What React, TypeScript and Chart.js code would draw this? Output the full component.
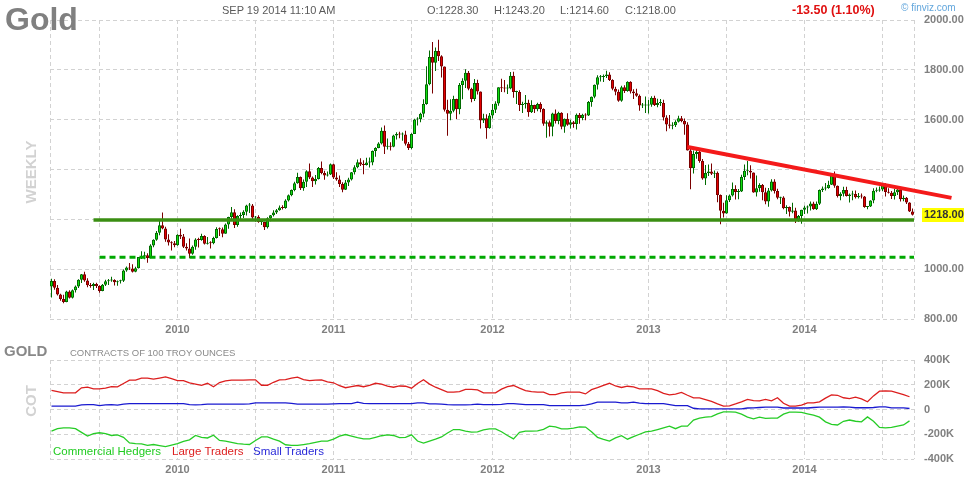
import React, { useEffect, useRef } from 'react';
import Chart from 'chart.js/auto';

// ---------- weekly gold candles (week starts Mon 16 Mar 2009 ... Mon 15 Sep 2014) ----------
const firstOpen = 930;
const closes2009 = [953,925,898,880,868,910,885,915,930,958,980,955,935,932,940,932,912,937,952,955,957,947,952,954,995,1007,1003,990,1004,1049,1052,1056,1045,1095,1118,1146,1176,1163,1119,1107,1104,1096];
const highs2009 = [962,960,936,901,897,913,915,918,934,960,981,990,964,944,945,945,935,940,958,961,970,960,955,958,999,1011,1025,1020,1010,1049,1072,1070,1064,1100,1120,1153,1195,1227,1170,1140,1112,1113];
const lows2009 = [886,917,894,873,863,867,882,882,906,924,944,950,927,925,916,924,905,911,932,936,949,934,933,942,948,990,997,987,988,1003,1041,1040,1026,1044,1088,1114,1136,1160,1110,1095,1075,1088];

const closes2010 = [1138,1131,1090,1083,1062,1090,1119,1117,1133,1102,1106,1104,1125,1161,1160,1142,1179,1209,1228,1177,1213,1217,1230,1256,1256,1207,1210,1189,1189,1168,1204,1216,1227,1236,1247,1245,1276,1297,1318,1345,1370,1325,1351,1393,1368,1353,1362,1406,1386,1376,1380,1421];
const highs2010 = [1140,1162,1141,1104,1123,1095,1124,1126,1142,1136,1129,1112,1130,1168,1167,1167,1183,1210,1249,1240,1216,1227,1236,1259,1266,1262,1213,1216,1200,1190,1208,1217,1236,1241,1256,1257,1281,1300,1320,1351,1387,1372,1360,1397,1424,1372,1378,1410,1432,1395,1392,1424];
const lows2010 = [1094,1121,1085,1075,1045,1058,1078,1087,1114,1099,1099,1083,1100,1123,1133,1128,1142,1162,1197,1165,1170,1196,1205,1215,1225,1195,1190,1186,1177,1157,1163,1192,1211,1221,1234,1239,1242,1272,1293,1313,1343,1318,1315,1330,1362,1330,1340,1360,1381,1359,1372,1378];

const closes2011 = [1368,1360,1342,1319,1348,1360,1389,1409,1429,1420,1418,1428,1428,1474,1486,1504,1556,1491,1493,1491,1536,1542,1540,1540,1503,1486,1542,1601,1602,1624,1663,1742,1852,1828,1876,1855,1813,1640,1624,1636,1683,1642,1739,1756,1788,1724,1683,1747,1713,1597,1606,1566];
const highs2011 = [1423,1389,1376,1349,1358,1367,1390,1417,1440,1445,1437,1447,1448,1476,1489,1509,1569,1577,1524,1509,1539,1550,1552,1548,1556,1510,1545,1604,1610,1628,1682,1814,1878,1912,1890,1921,1859,1813,1680,1682,1696,1684,1747,1766,1802,1795,1728,1763,1760,1713,1624,1622];
const lows2011 = [1362,1355,1330,1309,1318,1334,1356,1380,1405,1414,1381,1416,1408,1417,1451,1485,1500,1462,1480,1476,1489,1520,1525,1515,1496,1478,1481,1542,1577,1590,1610,1660,1738,1705,1795,1835,1769,1633,1535,1598,1630,1603,1622,1682,1727,1718,1670,1675,1701,1565,1587,1523];

const closes2012 = [1617,1640,1665,1730,1726,1725,1725,1776,1711,1711,1659,1662,1668,1630,1659,1642,1663,1643,1584,1590,1572,1625,1595,1628,1572,1604,1580,1590,1583,1620,1607,1620,1617,1671,1692,1740,1770,1771,1775,1781,1759,1724,1712,1676,1730,1715,1752,1713,1706,1696,1657,1657,1657];
const highs2012 = [1627,1663,1674,1730,1764,1759,1741,1791,1792,1716,1718,1672,1699,1680,1678,1660,1668,1670,1646,1597,1597,1628,1641,1632,1630,1605,1626,1600,1595,1625,1627,1624,1626,1675,1693,1741,1778,1779,1781,1796,1790,1762,1732,1721,1736,1738,1754,1754,1722,1724,1701,1667,1693];
const lows2012 = [1564,1605,1627,1656,1711,1710,1703,1722,1688,1663,1635,1627,1645,1612,1627,1627,1634,1630,1576,1527,1532,1533,1585,1582,1562,1547,1576,1565,1568,1561,1584,1598,1598,1615,1652,1686,1721,1753,1751,1767,1755,1718,1698,1672,1672,1707,1712,1705,1683,1692,1636,1647,1627];

const closes2013 = [1660,1688,1659,1667,1667,1609,1581,1576,1578,1592,1606,1595,1581,1476,1405,1462,1470,1434,1364,1386,1392,1383,1387,1298,1234,1223,1277,1296,1322,1310,1312,1370,1395,1395,1388,1308,1325,1338,1309,1272,1316,1352,1314,1287,1288,1244,1250,1230,1235,1198,1213,1238];
const highs2013 = [1679,1694,1696,1684,1683,1680,1618,1619,1590,1598,1616,1615,1605,1590,1489,1476,1488,1475,1442,1418,1420,1424,1396,1392,1300,1267,1297,1300,1348,1337,1322,1379,1420,1434,1417,1388,1376,1345,1342,1327,1326,1361,1361,1323,1291,1293,1257,1252,1267,1246,1217,1238];
const lows2013 = [1625,1652,1655,1650,1655,1597,1554,1565,1562,1571,1589,1590,1539,1476,1321,1384,1443,1427,1359,1338,1374,1378,1366,1269,1180,1207,1222,1270,1292,1280,1281,1310,1358,1377,1364,1307,1292,1311,1277,1261,1251,1312,1304,1281,1262,1240,1221,1211,1224,1185,1190,1182];

const closes2014 = [1247,1252,1264,1240,1263,1318,1324,1326,1339,1379,1335,1294,1303,1318,1294,1300,1302,1289,1294,1292,1250,1252,1276,1315,1316,1320,1337,1310,1307,1294,1309,1320,1281,1287,1268,1231,1218];
const highs2014 = [1255,1256,1272,1271,1272,1320,1332,1346,1355,1385,1392,1336,1309,1331,1331,1304,1315,1316,1306,1304,1294,1254,1277,1325,1328,1332,1346,1345,1325,1314,1322,1322,1324,1296,1290,1269,1243];
const lows2014 = [1221,1223,1235,1238,1237,1258,1310,1316,1323,1338,1327,1288,1277,1292,1292,1268,1277,1284,1284,1284,1246,1240,1250,1265,1309,1311,1314,1292,1304,1282,1280,1298,1272,1273,1262,1229,1215];

const closes = [...closes2009, ...closes2010, ...closes2011, ...closes2012, ...closes2013, ...closes2014];
const highs = [...highs2009, ...highs2010, ...highs2011, ...highs2012, ...highs2013, ...highs2014];
const lows = [...lows2009, ...lows2010, ...lows2011, ...lows2012, ...lows2013, ...lows2014];

// ---------- drawn trend lines ----------
const supportLevel = 1197;
const supportFromWeek = 14;
const lowerSupportLevel = 1048;
const lowerSupportFromWeek = 16;
const resistanceWeeks = [212, 300];
const resistancePrices = [1490, 1286];

// ---------- time axis ----------
const gridWeeks = [16, 42, 68, 94, 120, 147, 173, 199, 225, 251, 277];
const yearLabels: Record<number, string> = { 42: '2010', 94: '2011', 147: '2012', 199: '2013', 251: '2014' };
const xMin = -0.5;
const xMax = 287.5;

// ---------- COT (thousands of contracts, every 2nd week) ----------
const cotLarge = [
  154,145,135,135,135,175,180,167,167,173,
  185,183,210,237,237,253,253,245,254,264,
  250,233,233,215,205,195,212,184,218,232,
  237,237,237,240,240,196,196,220,240,242,
  254,262,242,234,238,240,224,216,192,176,
  185,194,184,195,212,205,188,180,190,188,
  172,210,240,205,180,160,141,141,145,162,
  162,158,135,135,135,165,185,194,172,152,
  144,141,141,121,121,135,141,141,141,126,
  160,176,195,212,190,178,188,182,167,167,
  167,152,130,119,125,138,115,94,94,80,
  65,45,28,30,45,62,81,72,70,82,
  70,95,50,27,27,35,54,54,62,92,
  118,115,95,88,100,85,62,110,148,150,
  148,135,120,103];
const cotSmall = [
  27,27,27,27,27,38,40,40,32,38,
  40,35,44,48,48,48,48,48,48,48,
  48,48,48,40,38,40,44,44,44,44,
  44,44,44,46,54,54,54,54,54,54,
  50,44,44,44,44,44,44,46,48,48,
  48,59,50,48,48,48,48,48,48,48,
  48,54,54,46,46,44,40,38,38,38,
  40,44,40,40,40,42,48,48,44,40,
  40,40,40,32,32,32,32,32,32,36,
  45,59,59,59,59,54,54,59,52,48,
  48,48,48,40,32,32,32,10,5,5,
  5,5,5,5,5,5,12,13,16,19,
  19,19,12,12,12,12,12,16,19,19,
  19,19,21,19,14,14,14,16,21,21,
  13,13,13,8];
const cotCommercial = [
  -175,-155,-148,-148,-155,-185,-215,-195,-188,-195,
  -210,-205,-225,-270,-275,-278,-290,-283,-292,-300,
  -288,-275,-258,-245,-210,-225,-230,-208,-250,-256,
  -265,-275,-280,-283,-250,-221,-221,-240,-256,-285,
  -290,-290,-283,-275,-265,-256,-256,-240,-215,-202,
  -215,-228,-237,-237,-225,-212,-205,-210,-228,-225,
  -205,-255,-272,-255,-240,-222,-190,-162,-162,-175,
  -183,-180,-165,-156,-156,-180,-210,-237,-185,-175,
  -175,-172,-160,-135,-140,-156,-156,-150,-140,-142,
  -180,-225,-242,-255,-230,-212,-240,-220,-200,-180,
  -175,-162,-148,-135,-155,-135,-135,-86,-70,-62,
  -58,-35,-19,-19,-22,-38,-62,-75,-62,-72,
  -70,-70,-38,-22,-22,-24,-35,-45,-62,-100,
  -120,-125,-95,-85,-95,-100,-60,-95,-145,-148,
  -145,-135,-125,-92];
const cotWeeks = cotLarge.map((_, k) => k * 2);

const header = {
  date: 'SEP 19 2014 11:10 AM',
  open: 'O:1228.30',
  high: 'H:1243.20',
  low: 'L:1214.60',
  close: 'C:1218.00',
  change: '-13.50 (1.10%)',
};

const FONT = 'Arial, "Liberation Sans", sans-serif';
const GRID = '#d2d2d2';
const LABEL = '#808080';

function makeXScale() {
  const ticks = [xMin, ...gridWeeks, xMax];
  return {
    type: 'linear',
    min: xMin,
    max: xMax,
    offset: false,
    grid: { color: GRID, drawTicks: false, offset: false, lineWidth: 1 },
    border: { display: false, dash: [4, 3] },
    afterBuildTicks: (s: any) => {
      s.ticks = ticks.map((v) => ({ value: v }));
    },
    afterFit: (s: any) => {
      s.height = 21;
    },
    ticks: {
      autoSkip: false,
      maxRotation: 0,
      minRotation: 0,
      padding: 4,
      color: LABEL,
      font: { family: FONT, size: 11, weight: 'bold' },
      callback: (v: any) => yearLabels[v as number] ?? '',
    },
  };
}

function makeYScale(min: number, max: number, fmt: (v: number) => string) {
  return {
    type: 'linear',
    position: 'right',
    min,
    max,
    grid: { color: GRID, drawTicks: false, lineWidth: 1 },
    border: { display: false, dash: [4, 3] },
    afterFit: (s: any) => {
      s.width = 50;
    },
    ticks: {
      stepSize: 200,
      padding: 10,
      color: LABEL,
      font: { family: FONT, size: 11, weight: 'bold' },
      callback: (v: any) => fmt(Number(v)),
    },
  };
}

const lastPricePlugin = {
  id: 'lastPrice',
  afterDraw(chart: any) {
    const last = closes[closes.length - 1];
    const y = chart.scales.y.getPixelForValue(last);
    const ctx = chart.ctx;
    const x = chart.chartArea.right + 8;
    ctx.save();
    ctx.fillStyle = '#ffff00';
    ctx.fillRect(x, Math.round(y) - 7, 964 - x, 14);
    ctx.fillStyle = '#333333';
    ctx.font = `bold 11px ${FONT}`;
    ctx.textBaseline = 'middle';
    ctx.textAlign = 'left';
    ctx.fillText(last.toFixed(2), x + 2, y);
    ctx.restore();
  },
};

function Txt(props: any) {
  const { x, y, size, color, bold, children, rotate } = props;
  const style: any = {
    position: 'absolute',
    left: x,
    top: y,
    fontSize: size,
    lineHeight: 1,
    color,
    fontWeight: bold ? 'bold' : 'normal',
    whiteSpace: 'nowrap',
    fontFamily: FONT,
  };
  if (rotate) {
    style.transform = 'translate(-50%, -50%) rotate(-90deg)';
  }
  return <div style={style}>{children}</div>;
}

export default function App() {
  const topRef = useRef<HTMLCanvasElement>(null);
  const botRef = useRef<HTMLCanvasElement>(null);

  useEffect(() => {
    const opens = closes.map((c, i) => (i === 0 ? firstOpen : closes[i - 1]));
    const up = closes.map((c, i) => c >= opens[i]);
    const bodies = closes.map((c, i) => ({ x: i, y: [Math.min(opens[i], c), Math.max(opens[i], c)] }));
    const wicks = closes.map((c, i) => ({ x: i, y: [lows[i], highs[i]] }));

    const top = new Chart(topRef.current as HTMLCanvasElement, {
      type: 'bar',
      data: {
        datasets: [
          {
            type: 'line',
            data: [
              { x: resistanceWeeks[0], y: resistancePrices[0] },
              { x: resistanceWeeks[1], y: resistancePrices[1] },
            ],
            borderColor: '#f41a1a',
            borderWidth: 4,
            pointRadius: 0,
            clip: false,
            order: 0,
          } as any,
          {
            type: 'line',
            data: [
              { x: supportFromWeek, y: supportLevel },
              { x: xMax, y: supportLevel },
            ],
            borderColor: '#3a8e12',
            borderWidth: 3.5,
            pointRadius: 0,
            order: 0,
          } as any,
          {
            type: 'line',
            data: [
              { x: lowerSupportFromWeek, y: lowerSupportLevel },
              { x: xMax, y: lowerSupportLevel },
            ],
            borderColor: '#00a800',
            borderWidth: 3,
            borderDash: [6, 4],
            borderCapStyle: 'butt',
            pointRadius: 0,
            order: 0,
          } as any,
          {
            type: 'bar',
            data: bodies,
            backgroundColor: up.map((u) => (u ? '#10e010' : '#e40000')),
            borderColor: up.map((u) => (u ? '#006a00' : '#7a0000')),
            borderWidth: 1,
            borderSkipped: false,
            barThickness: 3,
            minBarLength: 1,
            inflateAmount: 0,
            grouped: false,
            order: 1,
          } as any,
          {
            type: 'bar',
            data: wicks,
            backgroundColor: up.map((u) => (u ? '#006a00' : '#7a0000')),
            borderWidth: 0,
            barThickness: 1,
            inflateAmount: 0,
            grouped: false,
            order: 2,
          } as any,
        ],
      },
      options: {
        responsive: false,
        animation: false,
        layout: { padding: { left: 50, top: 20, right: 0, bottom: 0 } },
        plugins: { legend: { display: false }, tooltip: { enabled: false } },
        scales: {
          x: makeXScale() as any,
          y: makeYScale(800, 2000, (v) => v.toFixed(2)) as any,
        },
      },
      plugins: [lastPricePlugin],
    });

    const mk = (vals: number[]) => cotWeeks.map((w, k) => ({ x: w, y: vals[k] }));
    const bottom = new Chart(botRef.current as HTMLCanvasElement, {
      type: 'line',
      data: {
        datasets: [
          { data: mk(cotSmall), borderColor: '#1a1ad0', borderWidth: 1.3, pointRadius: 0, tension: 0 },
          { data: mk(cotLarge), borderColor: '#dc1e1e', borderWidth: 1.3, pointRadius: 0, tension: 0 },
          { data: mk(cotCommercial), borderColor: '#26cc26', borderWidth: 1.3, pointRadius: 0, tension: 0 },
        ],
      },
      options: {
        responsive: false,
        animation: false,
        layout: { padding: { left: 50, top: 20, right: 0, bottom: 0 } },
        plugins: { legend: { display: false }, tooltip: { enabled: false } },
        scales: {
          x: makeXScale() as any,
          y: makeYScale(-400, 400, (v) => (v === 0 ? '0' : `${v}K`)) as any,
        },
      },
    });

    return () => {
      top.destroy();
      bottom.destroy();
    };
  }, []);

  return (
    <div
      style={{
        position: 'absolute',
        left: 0,
        top: 0,
        width: 964,
        height: 480,
        background: '#ffffff',
        overflow: 'hidden',
        fontFamily: FONT,
      }}
    >
      <canvas ref={topRef} width={964} height={340} style={{ position: 'absolute', left: 0, top: 0, width: 964, height: 340 }} />
      <canvas ref={botRef} width={964} height={140} style={{ position: 'absolute', left: 0, top: 340, width: 964, height: 140 }} />

      <Txt x={5} y={3} size={32} color="#808080" bold>Gold</Txt>
      <Txt x={222} y={4.5} size={11} color="#5a5a5a">{header.date}</Txt>
      <Txt x={427} y={4.5} size={11} color="#5a5a5a">{header.open}</Txt>
      <Txt x={494} y={4.5} size={11} color="#5a5a5a">{header.high}</Txt>
      <Txt x={560} y={4.5} size={11} color="#5a5a5a">{header.low}</Txt>
      <Txt x={625} y={4.5} size={11} color="#5a5a5a">{header.close}</Txt>
      <Txt x={792} y={3.5} size={12.5} color="#e01010" bold>{header.change}</Txt>
      <Txt x={901} y={2.5} size={10} color="#62a6dc">© finviz.com</Txt>

      <Txt x={30} y={171.5} size={15} color="#d2d2d2" bold rotate>WEEKLY</Txt>

      <Txt x={4} y={343} size={15} color="#888888" bold>GOLD</Txt>
      <Txt x={70} y={348} size={9.5} color="#8a8a8a">CONTRACTS OF 100 TROY OUNCES</Txt>
      <Txt x={30} y={401} size={15} color="#d2d2d2" bold rotate>COT</Txt>

      <Txt x={53} y={446} size={11.5} color="#22cc22">Commercial Hedgers</Txt>
      <Txt x={172} y={446} size={11.5} color="#dd2020">Large Traders</Txt>
      <Txt x={253} y={446} size={11.5} color="#2a2ad8">Small Traders</Txt>
    </div>
  );
}
